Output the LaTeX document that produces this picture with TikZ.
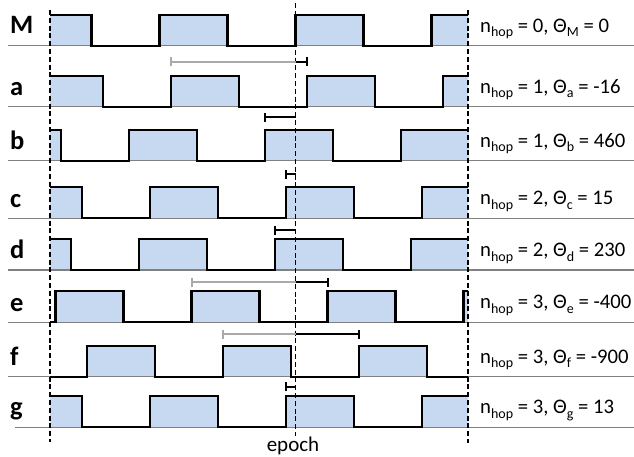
\documentclass[tikz,border=0pt]{standalone}
\usepackage{fontspec}
\setmainfont{Carlito}
\definecolor{pulseblue}{RGB}{198,217,241}
\definecolor{basegray}{RGB}{128,128,128}
\definecolor{lightbar}{RGB}{170,170,170}
\tikzset{
  baserule/.style={draw=basegray, line width=1.4pt},
  wave/.style={draw=black, line width=2.2pt, line join=miter},
  pulsefill/.style={fill=pulseblue},
  guide/.style={draw=black, line width=1.6pt, dash pattern=on 5pt off 2.8pt},
  blackbar/.style={draw=black, line width=2pt},
  graybar/.style={draw=lightbar, line width=2pt},
  rowlabel/.style={font=\fontsize{26.5}{26.5}\selectfont\bfseries, anchor=base west, inner sep=0pt},
  infolabel/.style={font=\fontsize{20.7}{20.7}\selectfont, anchor=base west, inner sep=0pt},
}
\newcommand{\hopsub}[1]{\raisebox{-0.22em}{\fontsize{14}{14}\selectfont #1}}
% #1 baseline y, #2 phase (a rising edge), #3 gray start x
\newcommand{\wavrow}[3]{%
  \begin{scope}
    \clip (50,0) rectangle (468,456);
    \foreach \k in {-3,...,2} {
      \fill[pulsefill] ({#2+136*\k},#1) rectangle ({#2+136*\k+68},{#1-31});
    }
  \end{scope}
  \draw[baserule] (#3,#1) -- (634,#1);
  \begin{scope}
    \clip (50,0) rectangle (468,456);
    \draw[wave] ({#2-408},#1) \foreach \k in {1,...,7}{ -- ++(0,-31) -- ++(68,0) -- ++(0,31) -- ++(68,0)};
  \end{scope}}
\begin{document}
\begin{tikzpicture}[x=1pt,y=-1pt]
  \useasboundingbox (0,0) rectangle (634,456);
  % waveforms
  \wavrow{45.7}{295.5}{8}
  \wavrow{106.7}{306.6}{8}
  \wavrow{160.7}{265.2}{8}
  \wavrow{218.3}{286}{8}
  \wavrow{270}{275.2}{8}
  \wavrow{322.3}{327.5}{8}
  \wavrow{376.7}{358.8}{8}
  \wavrow{427.3}{286}{15}
  % guide lines
  \coordinate (leftTop) at (50,10);
  \coordinate (leftBot) at (50,442);
  \coordinate (epochTop) at (295.5,3);
  \coordinate (epochBot) at (295.5,436);
  \coordinate (rightTop) at (468,10);
  \coordinate (rightBot) at (468,443);
  \draw[guide] (leftTop) -- (leftBot);
  \draw[guide] (epochTop) -- (epochBot);
  \draw[guide] (rightTop) -- (rightBot);
  % offset bars
  % M -> a
  \coordinate (b1s) at (170.6,61.5); \coordinate (b1e) at (295.5,61.5); \coordinate (b1f) at (306.6,61.5);
  \draw[graybar] (b1s) -- (b1e);
  \draw[graybar] ([yshift=-4.5pt]b1s) -- ([yshift=4.5pt]b1s);
  \draw[blackbar] (b1e) -- (b1f);
  \draw[blackbar] ([yshift=-4.5pt]b1f) -- ([yshift=4.5pt]b1f);
  % b
  \coordinate (b2s) at (265.2,117); \coordinate (b2e) at (295.5,117);
  \draw[blackbar] (b2s) -- (b2e);
  \draw[blackbar] ([yshift=-4.5pt]b2s) -- ([yshift=4.5pt]b2s);
  % c
  \coordinate (b3s) at (286,174.3); \coordinate (b3e) at (295.5,174.3);
  \draw[blackbar] (b3s) -- (b3e);
  \draw[blackbar] ([yshift=-4.5pt]b3s) -- ([yshift=4.5pt]b3s);
  % d
  \coordinate (b4s) at (275.2,230); \coordinate (b4e) at (295.5,230);
  \draw[blackbar] (b4s) -- (b4e);
  \draw[blackbar] ([yshift=-4.5pt]b4s) -- ([yshift=4.5pt]b4s);
  % e
  \coordinate (b5s) at (191.5,282); \coordinate (b5e) at (295.5,282); \coordinate (b5f) at (327.5,282);
  \draw[graybar] (b5s) -- (b5e);
  \draw[graybar] ([yshift=-4.5pt]b5s) -- ([yshift=4.5pt]b5s);
  \draw[blackbar] (b5e) -- (b5f);
  \draw[blackbar] ([yshift=-4.5pt]b5f) -- ([yshift=4.5pt]b5f);
  % f
  \coordinate (b6s) at (222.8,334.3); \coordinate (b6e) at (295.5,334.3); \coordinate (b6f) at (358.8,334.3);
  \draw[graybar] (b6s) -- (b6e);
  \draw[graybar] ([yshift=-4.5pt]b6s) -- ([yshift=4.5pt]b6s);
  \draw[blackbar] (b6e) -- (b6f);
  \draw[blackbar] ([yshift=-4.5pt]b6f) -- ([yshift=4.5pt]b6f);
  % g
  \coordinate (b7s) at (286,386.7); \coordinate (b7e) at (295.5,386.7);
  \draw[blackbar] (b7s) -- (b7e);
  \draw[blackbar] ([yshift=-4.5pt]b7s) -- ([yshift=4.5pt]b7s);
  % row labels
  \node[rowlabel] (lM) at (10,33.6) {M};
  \node[rowlabel] (la) at (10,95.0) {a};
  \node[rowlabel] (lb) at (10,149.7) {b};
  \node[rowlabel] (lc) at (10,207.0) {c};
  \node[rowlabel] (ld) at (10,258.7) {d};
  \node[rowlabel] (le) at (10,311.0) {e};
  \node[rowlabel] (lf) at (10,365.2) {f};
  \node[rowlabel] (lg) at (10,415.8) {g};
  % info labels
  \node[infolabel] (iM) at (480,32.3) {n\hopsub{hop} = 0, Θ\hopsub{M} = 0};
  \node[infolabel] (ia) at (480,93.3) {n\hopsub{hop} = 1, Θ\hopsub{a} = -16};
  \node[infolabel] (ib) at (480,147.3) {n\hopsub{hop} = 1, Θ\hopsub{b} = 460};
  \node[infolabel] (ic) at (480,204.9) {n\hopsub{hop} = 2, Θ\hopsub{c} = 15};
  \node[infolabel] (id) at (480,256.6) {n\hopsub{hop} = 2, Θ\hopsub{d} = 230};
  \node[infolabel] (ie) at (480,308.9) {n\hopsub{hop} = 3, Θ\hopsub{e} = -400};
  \node[infolabel] (if) at (480,363.3) {n\hopsub{hop} = 3, Θ\hopsub{f} = -900};
  \node[infolabel] (ig) at (480,413.9) {n\hopsub{hop} = 3, Θ\hopsub{g} = 13};
  \node[font=\fontsize{21}{21}\selectfont, anchor=base, inner sep=0pt] (epochlbl) at (293,451.5) {epoch};
\end{tikzpicture}
\end{document}
